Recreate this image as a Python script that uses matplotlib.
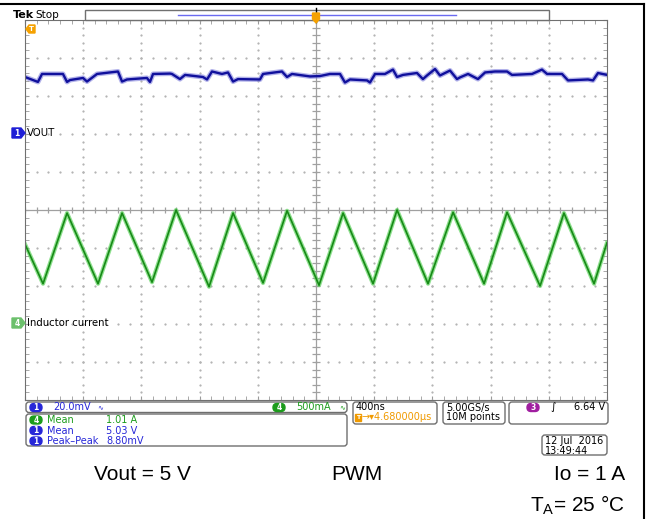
import numpy as np
import matplotlib.pyplot as plt
from matplotlib.patches import FancyBboxPatch, Rectangle, Polygon

# ---- data (400 ns/div, trigger at centre) ----
# inductor current, ch4 (triangle corners)
t_il_ns = [-2000, -1876, -1711, -1498, -1333, -1127, -962, -735, -570, -364,
           -199, 21, 186, 392, 557, 770, 942, 1155, 1313, 1540, 1704, 1911, 2000]
il_amp = [1.05, 0.53, 1.46, 0.53, 1.46, 0.55, 1.50, 0.49, 1.46, 0.54,
          1.49, 0.51, 1.46, 0.53, 1.50, 0.53, 1.47, 0.53, 1.47, 0.50, 1.46, 0.53, 1.07]

# output voltage, ch1
t_vout_ns = [-2000, -1911, -1883, -1739, -1711, -1691, -1601, -1574, -1505, -1361,
             -1333, -1299, -1162, -1141, -1120, -1003, -990, -935, -900, -777,
             -749, -715, -646, -605, -570, -536, -385, -364, -234, -199,
             -165, -41, 27, 96, 165, 199, 234, 351, 371, 406,
             474, 529, 557, 598, 694, 735, 763, 818, 852, 921,
             969, 990, 1045, 1113, 1162, 1230, 1313, 1347, 1485, 1553,
             1588, 1691, 1732, 1869, 1904, 1938, 2000]
vout_v = [5.0300, 5.0274, 5.0316, 5.0316, 5.0274, 5.0284, 5.0295, 5.0276, 5.0316, 5.0329,
          5.0276, 5.0287, 5.0295, 5.0274, 5.0316, 5.0318, 5.0316, 5.0289, 5.0311, 5.0300,
          5.0287, 5.0329, 5.0316, 5.0324, 5.0276, 5.0289, 5.0287, 5.0316, 5.0329, 5.0300,
          5.0316, 5.0303, 5.0305, 5.0316, 5.0316, 5.0271, 5.0287, 5.0282, 5.0271, 5.0316,
          5.0316, 5.0339, 5.0300, 5.0311, 5.0321, 5.0289, 5.0308, 5.0342, 5.0308, 5.0334,
          5.0289, 5.0298, 5.0316, 5.0289, 5.0324, 5.0329, 5.0329, 5.0311, 5.0316, 5.0339,
          5.0316, 5.0316, 5.0282, 5.0287, 5.0282, 5.0321, 5.0311]

time_div = 400.0      # ns/div
ch1_scale = 0.020     # V/div
ch1_offset = 5.0
ch1_pos = 2.0         # div
ch4_scale = 0.5       # A/div
ch4_pos = -3.0

W, H = 649, 519
fig = plt.figure(figsize=(W / 100, H / 100), dpi=100)
fig.patch.set_facecolor('white')


def rect(x0, y0, x1, y1):
    return [x0 / W, 1 - y1 / H, (x1 - x0) / W, (y1 - y0) / H]


# graticule
ax = fig.add_axes(rect(25, 20, 607, 400))
ax.set_xlim(-5, 5)
ax.set_ylim(-5, 5)
grid_col = '#9a9a9a'
for s in ax.spines.values():
    s.set_color('#707070')
ax.set_xticks(np.arange(-5, 6, 1))
ax.set_yticks(np.arange(-5, 6, 1))
ax.set_xticks(np.arange(-5, 5.01, 0.2), minor=True)
ax.set_yticks(np.arange(-5, 5.01, 0.2), minor=True)
ax.tick_params(which='both', direction='in', length=3, color=grid_col,
               top=True, right=True, labelbottom=False, labelleft=False)

fine = np.arange(-5, 5.01, 0.2)
for k in range(-4, 5):
    if k == 0:
        continue
    ax.plot(np.full_like(fine, k), fine, ls='none', marker='s', ms=0.6, color='#b4b4b4')
    ax.plot(fine, np.full_like(fine, k), ls='none', marker='s', ms=0.6, color='#b4b4b4')
ax.axhline(0, color='#a0a0a0', lw=0.9)
ax.axvline(0, color='#a0a0a0', lw=0.9)
ax.plot(fine, np.zeros_like(fine), ls='none', marker='|', ms=5, mew=0.9, color='#a0a0a0')
ax.plot(np.zeros_like(fine), fine, ls='none', marker='_', ms=6, mew=0.9, color='#a0a0a0')

# traces
x_v = np.array(t_vout_ns) / time_div
y_v = ch1_pos + (np.array(vout_v) - ch1_offset) / ch1_scale
x_i = np.array(t_il_ns) / time_div
y_i = ch4_pos + np.array(il_amp) / ch4_scale

ax.plot(x_v, y_v, color='#8080dc', lw=3.6, alpha=0.6, solid_joinstyle='round')
ax.plot(x_v, y_v, color='#10109c', lw=1.7, solid_joinstyle='round')
ax.plot(x_i, y_i, color='#5fd35f', lw=3.0, alpha=0.7, solid_joinstyle='round')
ax.plot(x_i, y_i, color='#178a17', lw=1.2, solid_joinstyle='round')

# overlay in pixel coordinates for the scope decorations
ov = fig.add_axes([0, 0, 1, 1])
ov.set_xlim(0, W)
ov.set_ylim(H, 0)
ov.axis('off')
ov.patch.set_alpha(0)

ov.plot([0, 644], [4, 4], color='black', lw=1.5)
ov.plot([644, 644], [4, H], color='black', lw=1.5)

ov.text(13, 15, 'Tek', fontsize=8, fontweight='bold', va='center')
ov.text(35, 15, 'Stop', fontsize=7.5, va='center')
ov.add_patch(Rectangle((85, 10), 464, 10, fc='white', ec='#707070', lw=1))
ov.plot([178, 456], [15, 15], color='#6a6af0', lw=1)
ov.plot([316, 316], [8, 22], color='black', lw=1)
ov.add_patch(Polygon([(312.5, 13), (319.5, 13), (319.5, 19), (316, 23), (312.5, 19)],
                     closed=True, fc='#f5a100', ec='#f5a100', zorder=3))
ov.add_patch(Polygon([(26, 29), (29, 25), (35, 25), (35, 33), (29, 33)],
                     closed=True, fc='#f5a100', ec='#f5a100'))
ov.text(31.5, 29.3, 'T', color='white', fontsize=5, ha='center', va='center', fontweight='bold')


def ch_marker(y, col, num, label, tcol='black'):
    ov.add_patch(Polygon([(12, y - 5), (21, y - 5), (25, y), (21, y + 5), (12, y + 5)],
                         closed=True, fc=col, ec=col))
    ov.text(17, y + 0.3, num, color='white', fontsize=5.5, ha='center', va='center',
            fontweight='bold')
    ov.text(27, y, label, color=tcol, fontsize=7.3, va='center')


ch_marker(133, '#1f1fd6', '1', 'VOUT')
ch_marker(323, '#6cc06c', '4', 'Inductor current')

blue = '#2626d8'
green = '#1c9c1c'
orange = '#f09a00'


def box(x0, y0, x1, y1):
    ov.add_patch(FancyBboxPatch((x0, y0), x1 - x0, y1 - y0,
                                boxstyle='round,pad=0,rounding_size=3',
                                fc='white', ec='#6e6e6e', lw=1))


def badge(x, y, col, num):
    ov.add_patch(FancyBboxPatch((x, y - 4), 12, 8, boxstyle='round,pad=0,rounding_size=4',
                                fc=col, ec=col))
    ov.text(x + 6, y + 0.3, num, color='white', fontsize=5.5, ha='center', va='center',
            fontweight='bold')


fs = 7
box(26, 402, 347, 412.5)
badge(30, 407.5, blue, '1')
ov.text(53, 407.5, '20.0mV', color=blue, fontsize=fs, va='center')
ov.text(97, 407, '\u223f', color=blue, fontsize=5, va='center')
badge(273, 407.5, green, '4')
ov.text(296, 407.5, '500mA', color=green, fontsize=fs, va='center')
ov.text(339, 407, '\u223f', color=green, fontsize=5, va='center')

box(26, 414, 347, 446)
badge(30, 420, green, '4')
ov.text(47, 420, 'Mean', color=green, fontsize=fs, va='center')
ov.text(106, 420, '1.01 A', color=green, fontsize=fs, va='center')
badge(30, 430.5, blue, '1')
ov.text(47, 430.5, 'Mean', color=blue, fontsize=fs, va='center')
ov.text(106, 430.5, '5.03 V', color=blue, fontsize=fs, va='center')
badge(30, 441, blue, '1')
ov.text(47, 441, 'Peak\u2013Peak', color=blue, fontsize=fs, va='center')
ov.text(106, 441, '8.80mV', color=blue, fontsize=fs, va='center')

box(353, 402, 437, 424)
ov.text(356, 407.5, '400ns', fontsize=fs, va='center')
ov.add_patch(Rectangle((355, 413.5), 6, 7, fc=orange, ec=orange))
ov.text(358, 417.3, 'T', color='white', fontsize=4.5, ha='center', va='center', fontweight='bold')
ov.text(362, 417.5, '\u2192\u25be4.680000\u00b5s', color=orange, fontsize=fs, va='center')

box(443, 402, 505, 424)
ov.text(446, 407.5, '5.00GS/s', fontsize=fs, va='center')
ov.text(446, 417.5, '10M points', fontsize=fs, va='center')

box(509, 402, 608, 424)
badge(527, 407.5, '#a01ea0', '3')
ov.text(550, 407.5, '\u222b', fontsize=7.5, va='center')
ov.text(605, 407.5, '6.64 V', fontsize=fs, va='center', ha='right')

box(542, 435, 607, 455)
ov.text(545, 441, '12 Jul  2016', fontsize=fs, va='center')
ov.text(545, 451, '13:49:44', fontsize=fs, va='center')

# test conditions
cap = dict(fontsize=15, family='Liberation Sans', va='center')
ov.text(142, 475, 'Vout = 5 V', ha='center', **cap)
ov.text(357, 475, 'PWM', ha='center', **cap)
ov.text(625, 475, 'Io = 1 A', ha='right', **cap)
ov.text(625, 505, r'T$_\mathregular{A}$= 25 °C', ha='right', **cap)

fig.savefig('out.png', dpi=100)
